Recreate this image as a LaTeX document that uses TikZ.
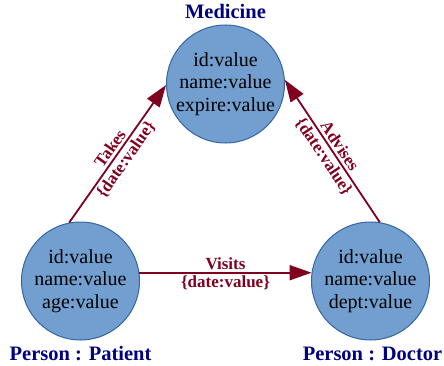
\documentclass[tikz,border=0pt]{standalone}
\usepackage{fontspec}
\setmainfont{Liberation Serif}
\usetikzlibrary{arrows.meta,positioning}
\definecolor{nodeblue}{HTML}{729FCF}
\definecolor{nodeline}{HTML}{3465A4}
\definecolor{edgered}{HTML}{800020}
\definecolor{titleblue}{HTML}{000080}
\begin{document}
\begin{tikzpicture}[x=1pt,y=1pt,
	entity/.style = {circle, fill=nodeblue, draw=nodeline, line width=1pt, minimum size=118pt, inner sep=0pt, align=center, font=\fontsize{20}{22.5}\selectfont},
	rel/.style = {edgered, line width=1.8pt, -{Triangle[length=22pt,width=15pt]}},
	reltext/.style = {text=edgered, font=\bfseries\fontsize{17}{20}\selectfont, sloped, inner sep=2.5pt},
	title/.style = {text=titleblue, font=\bfseries\fontsize{20.5}{24}\selectfont, inner sep=0pt}]
	\useasboundingbox (0,0) rectangle (444,365);
	%
	\node[entity] (med) at (225.5,281) {id:value\\name:value\\expire:value};
	\node[entity] (pat) at (80.5,84) {id:value\\name:value\\age:value};
	\node[entity] (doc) at (370.5,84) {id:value\\name:value\\dept:value};
	%
	\node[title, above = 6pt of med] (medname) {Medicine};
	\node[title, below = 6pt of pat] (patname) {Person : Patient};
	\node[title, below = 6pt of doc, xshift=2pt] (docname) {Person : Doctor};
	%
	\draw[rel] (pat.101) -- (med.181) node[midway, above, reltext]{Takes} node[midway, below, reltext]{\{date:value\}};
	\draw[rel] (doc.81) -- (med.4) node[midway, above, reltext]{Advises} node[midway, below, reltext]{\{date:value\}};
	\draw[rel] (pat.8) -- (doc.172) node[midway, above, reltext]{Visits} node[midway, below, reltext]{\{date:value\}};
	%
\end{tikzpicture}
\end{document}
